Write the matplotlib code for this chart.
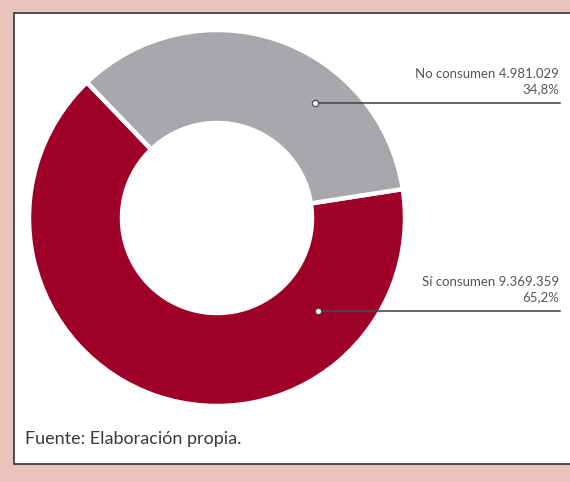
import matplotlib
matplotlib.use("Agg")
import matplotlib.pyplot as plt
from matplotlib.patches import Rectangle
import numpy as np

categories = ["Sí consumen", "No consumen"]
values = [9369359, 4981029]
value_labels = ["9.369.359", "4.981.029"]
pct_labels = ["65,2%", "34,8%"]
colors = ["#9e0028", "#a7a8ab"]
source = "Fuente: Elaboración propia."

W, H = 570, 482
fig = plt.figure(figsize=(W / 100, H / 100), dpi=100)
fig.patch.set_facecolor("#e8c4bc")
ax = fig.add_axes([0, 0, 1, 1])

# white panel
ax.add_patch(Rectangle((13.5, H - 464), 600, 451, facecolor="white",
                       edgecolor="#333333", linewidth=1.2, zorder=0))

cx, cy, R = 217, H - 218, 188
wedges, _ = ax.pie(values, colors=colors, startangle=133.8, counterclock=True,
                   center=(cx, cy), radius=R,
                   wedgeprops=dict(width=93, edgecolor="white", linewidth=3.2))
ax.set_xlim(0, W)
ax.set_ylim(0, H)
ax.set_aspect("equal")
ax.axis("off")

font = "Lato"
# label positions (pixels)
dots = {"No consumen": (315, H - 103), "Sí consumen": (318, H - 311)}
for cat, val, pct in zip(categories, value_labels, pct_labels):
    dx, dy = dots[cat]
    ax.plot([dx, 560], [dy, dy], color="#4a4a4a", lw=1.2, zorder=5)
    ax.plot([dx], [dy], marker="o", ms=4.5, mfc="white", mec="#4a4a4a",
            mew=0.9, zorder=6)
    ax.text(559, dy + 29, f"{cat} {val}", ha="right", va="center",
            fontsize=9.5, color="#555555", family=font)
    ax.text(559, dy + 14, pct, ha="right", va="center",
            fontsize=9.5, color="#555555", family=font)

ax.text(25, H - 439, source, ha="left", va="center", fontsize=13,
        color="#3a3a3a", family=font)

fig.savefig("out.png", dpi=100, facecolor=fig.get_facecolor())
